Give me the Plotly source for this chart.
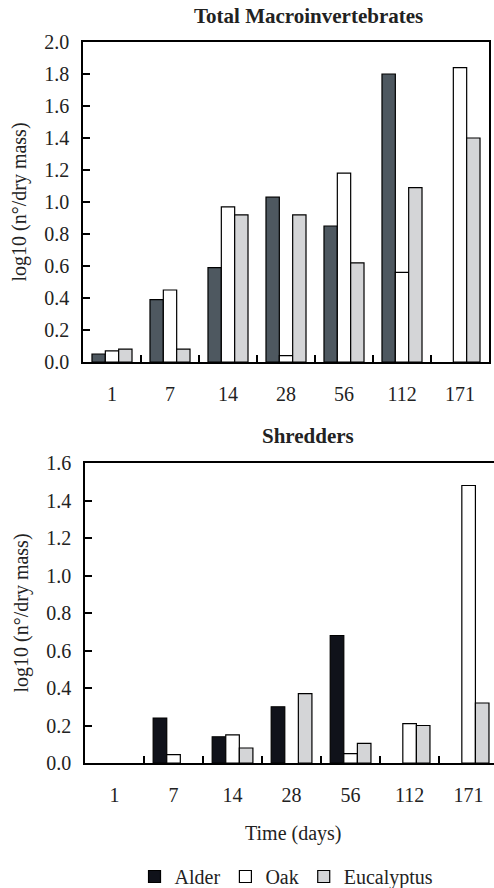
import plotly.graph_objects as go

days = ["1", "7", "14", "28", "56", "112", "171"]

# None = no bar drawn (no visible value in the original)
total_alder = [0.05, 0.39, 0.59, 1.03, 0.85, 1.80, None]
total_oak = [0.07, 0.45, 0.97, 0.04, 1.18, 0.56, 1.84]
total_euc = [0.08, 0.08, 0.92, 0.92, 0.62, 1.09, 1.40]

shred_alder = [None, 0.24, 0.14, 0.30, 0.68, None, None]
shred_oak = [None, 0.045, 0.15, None, 0.05, 0.21, 1.48]
shred_euc = [None, None, 0.08, 0.37, 0.105, 0.20, 0.32]

y_ticks_top = [0.0, 0.2, 0.4, 0.6, 0.8, 1.0, 1.2, 1.4, 1.6, 1.8, 2.0]
y_ticks_bottom = [0.0, 0.2, 0.4, 0.6, 0.8, 1.0, 1.2, 1.4, 1.6]

W, H = 494, 888
FONT = "Liberation Serif, Times New Roman, serif"
TXT = "#222"
line = dict(color="black", width=1.2)

fig = go.Figure()

fig.add_trace(go.Bar(x=days, y=total_alder, name="Alder", marker=dict(color="#4e5860", line=line),
                     xaxis="x", yaxis="y", showlegend=False))
fig.add_trace(go.Bar(x=days, y=total_oak, name="Oak", marker=dict(color="white", line=line),
                     xaxis="x", yaxis="y", showlegend=False))
fig.add_trace(go.Bar(x=days, y=total_euc, name="Eucalyptus", marker=dict(color="#d4d5d7", line=line),
                     xaxis="x", yaxis="y", showlegend=False))

fig.add_trace(go.Bar(x=days, y=shred_alder, name="Alder", marker=dict(color="#10121a", line=line),
                     xaxis="x2", yaxis="y2"))
fig.add_trace(go.Bar(x=days, y=shred_oak, name="Oak", marker=dict(color="white", line=line),
                     xaxis="x2", yaxis="y2"))
fig.add_trace(go.Bar(x=days, y=shred_euc, name="Eucalyptus", marker=dict(color="#d4d5d7", line=line),
                     xaxis="x2", yaxis="y2"))

common_x = dict(type="category", showline=True, linecolor="black", linewidth=1.5, mirror=True,
                ticks="inside", tickson="boundaries", ticklen=7, tickwidth=1.5, tickcolor="black",
                showgrid=False, zeroline=False, ticklabelstandoff=13, automargin=False,
                tickfont=dict(family=FONT, size=20, color=TXT))
common_y = dict(showline=True, linecolor="black", linewidth=1.5,
                ticks="inside", ticklen=7, tickwidth=1.5, tickcolor="black",
                showgrid=False, zeroline=False, tickformat=".1f", ticklabelstandoff=8, automargin=False,
                tickfont=dict(family=FONT, size=20, color=TXT))

fig.update_layout(
    width=W, height=H,
    margin=dict(l=0, r=0, t=0, b=0, autoexpand=False),
    paper_bgcolor="white", plot_bgcolor="white",
    barmode="group", bargap=0.31, bargroupgap=0,
    font=dict(family=FONT, size=20, color=TXT),
    xaxis=dict(common_x, domain=[83 / W, 489 / W], anchor="y", range=[-0.5, 6.5]),
    yaxis=dict(common_y, domain=[1 - 362 / H, 1 - 42 / H], anchor="x", range=[0, 2.0],
               tickvals=y_ticks_top, mirror=True,
               title=dict(text="log10 (n°/dry mass)", font=dict(family=FONT, size=20, color=TXT), standoff=12)),
    xaxis2=dict(common_x, domain=[85 / W, 1.0], anchor="y2", range=[-0.5, 6.43]),
    yaxis2=dict(common_y, domain=[1 - 763 / H, 1 - 463 / H], anchor="x2", range=[0, 1.6],
                tickvals=y_ticks_bottom, mirror=False,
                title=dict(text="log10 (n°/dry mass)", font=dict(family=FONT, size=20, color=TXT), standoff=12)),
    legend=dict(orientation="h", x=0.58, xanchor="center", y=-0.009, yanchor="bottom",
                font=dict(family=FONT, size=20, color=TXT), itemwidth=30, tracegroupgap=0,
                bgcolor="rgba(0,0,0,0)"),
    annotations=[
        dict(text="<b>Total Macroinvertebrates</b>", x=308 / W, y=1 - 16 / H, xref="paper", yref="paper",
             showarrow=False, xanchor="center", yanchor="middle", font=dict(family=FONT, size=21, color=TXT)),
        dict(text="<b>Shredders</b>", x=308 / W, y=1 - 436 / H, xref="paper", yref="paper",
             showarrow=False, xanchor="center", yanchor="middle", font=dict(family=FONT, size=21, color=TXT)),
        dict(text="Time (days)", x=293 / W, y=1 - 833 / H, xref="paper", yref="paper",
             showarrow=False, xanchor="center", yanchor="middle", font=dict(family=FONT, size=20, color=TXT)),
    ],
)

fig.write_html("out.html")
